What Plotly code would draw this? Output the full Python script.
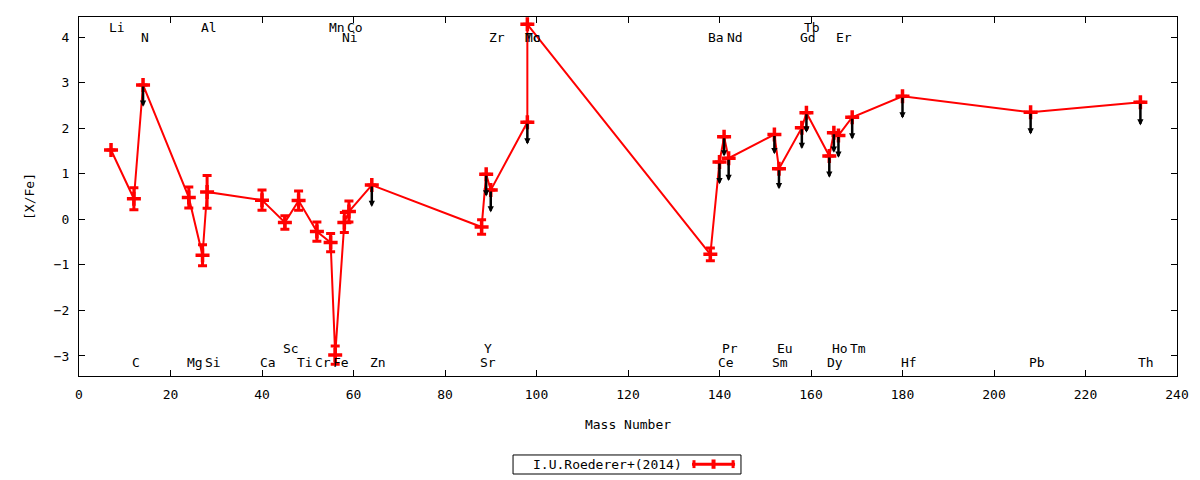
import plotly.graph_objects as go

# ---- data ----
elements = ["Li", "C", "N", "Mg", "Al", "Si", "Ca", "Sc", "Ti", "Cr", "Mn", "Fe",
            "Ni", "Co", "Zn", "Sr", "Y", "Zr", "Mo", "Tc", "Ba", "Ce", "Pr", "Nd",
            "Sm", "Eu", "Gd", "Tb", "Dy", "Ho", "Er", "Tm", "Hf", "Pb", "Th"]
mass = [7, 12, 14, 24, 27, 28, 40, 45, 48, 52, 55, 56,
        58, 59, 64, 88, 89, 90, 98, 98, 138, 140, 141, 142,
        152, 153, 158, 159, 164, 165, 166, 169, 180, 208, 232]
x_fe = [1.52, 0.45, 2.95, 0.48, -0.79, 0.60, 0.42, -0.07, 0.41, -0.27, -0.51, -2.98,
        -0.07, 0.17, 0.75, -0.17, 0.99, 0.64, 2.13, 4.28, -0.77, 1.26, 1.81, 1.34,
        1.86, 1.11, 2.01, 2.34, 1.39, 1.90, 1.84, 2.24, 2.70, 2.35, 2.57]
x_fe_err = [None, 0.24, None, 0.23, 0.23, 0.36, 0.22, 0.15, 0.21, 0.21, 0.20, 0.20,
            0.22, 0.23, None, 0.16, None, None, None, None, 0.14, None, None, None,
            None, None, None, None, None, None, None, None, None, None, None]
# black arrows (downward) : end value of each arrow, None = no arrow
arrow_end = [None, None, 2.47, None, None, None, None, None, None, None, None, None,
             None, None, 0.27, None, 0.50, 0.15, 1.64, None, None, 0.77, 1.38, 0.84,
             1.43, 0.66, 1.54, 1.90, 0.91, 1.46, 1.35, 1.75, 2.21, 1.86, 2.06]
# label row for each element name (1,2 = top rows ; 3,4 = bottom rows)
label_row = [1, 4, 2, 4, 1, 4, 4, 3, 4, 4, 1, 4,
             2, 1, 4, 4, 3, 2, 2, 2, 2, 4, 3, 2,
             4, 3, 2, 1, 4, 3, 2, 3, 4, 4, 4]
row_y = {1: 4.22, 2: 4.00, 3: -2.83, 4: -3.14}

series_name = "I.U.Roederer+(2014)"

RED = "#ff0000"
FONT = "DejaVu Sans Mono"

fig = go.Figure()
fig.add_trace(go.Scatter(
    x=mass, y=x_fe, mode="lines+markers", name=series_name,
    line=dict(color=RED, width=2),
    marker=dict(symbol="cross-thin", size=10, color=RED,
                line=dict(color=RED, width=3.5)),
    error_y=dict(type="data", array=x_fe_err, visible=True,
                 color=RED, thickness=3, width=4.5),
    showlegend=False,
))

annotations = []
# upper-limit style arrows
for m, v, a in zip(mass, x_fe, arrow_end):
    if a is None:
        continue
    annotations.append(dict(
        x=m, y=a, ax=m, ay=v, xref="x", yref="y", axref="x", ayref="y",
        text="", showarrow=True, arrowhead=2, arrowsize=0.5, arrowwidth=2.5,
        arrowcolor="black", standoff=0, startstandoff=0,
    ))
# element labels
for el, m, r in zip(elements, mass, label_row):
    annotations.append(dict(
        x=m, y=row_y[r], xref="x", yref="y", text=el, showarrow=False,
        xanchor="left", yanchor="middle", xshift=-4,
        font=dict(family=FONT, size=13, color="black"),
    ))

# custom gnuplot-like legend (text then sample)
annotations.append(dict(
    x=0.481, y=-0.2465, xref="paper", yref="paper", text=series_name,
    showarrow=False, xanchor="center", yanchor="middle",
    font=dict(family=FONT, size=13, color="black"),
))

shapes = [
    dict(type="rect", xref="paper", yref="paper", x0=0.3953, x1=0.6029,
         y0=-0.273, y1=-0.220, line=dict(color="black", width=1)),
    dict(type="line", xref="paper", yref="paper", x0=0.5583, x1=0.5975,
         y0=-0.2455, y1=-0.2455, line=dict(color=RED, width=3)),
    dict(type="line", xref="paper", yref="paper", x0=0.5601, x1=0.5601,
         y0=-0.2565, y1=-0.2345, line=dict(color=RED, width=3)),
    dict(type="line", xref="paper", yref="paper", x0=0.5957, x1=0.5957,
         y0=-0.2565, y1=-0.2345, line=dict(color=RED, width=3)),
    dict(type="line", xref="paper", yref="paper", x0=0.5779, x1=0.5779,
         y0=-0.2585, y1=-0.2325, line=dict(color=RED, width=4)),
]

axis_common = dict(
    showline=True, linecolor="black", linewidth=1, mirror="ticks",
    ticks="inside", ticklen=6, tickcolor="black", tickwidth=1,
    showgrid=False, zeroline=False,
    tickfont=dict(family=FONT, size=13, color="black"),
)

fig.update_layout(
    width=1200, height=480,
    paper_bgcolor="white", plot_bgcolor="white",
    margin=dict(l=79, r=23, t=17, b=104),
    xaxis=dict(range=[0, 240], dtick=20, tick0=0, ticklabelstandoff=6,
               title=dict(text="Mass Number", standoff=19,
                          font=dict(family=FONT, size=13, color="black")),
               **axis_common),
    yaxis=dict(range=[-3.44, 4.44], dtick=1, tick0=0, ticklabelstandoff=6,
               title=dict(text="[X/Fe]", standoff=16,
                          font=dict(family=FONT, size=13, color="black")),
               **axis_common),
    annotations=annotations,
    shapes=shapes,
    font=dict(family=FONT, size=13, color="black"),
)

fig.write_html("out.html",
               config={"displayModeBar": False},
               post_script="document.body.style.margin='0px';"
                           "document.body.style.overflow='hidden';")
